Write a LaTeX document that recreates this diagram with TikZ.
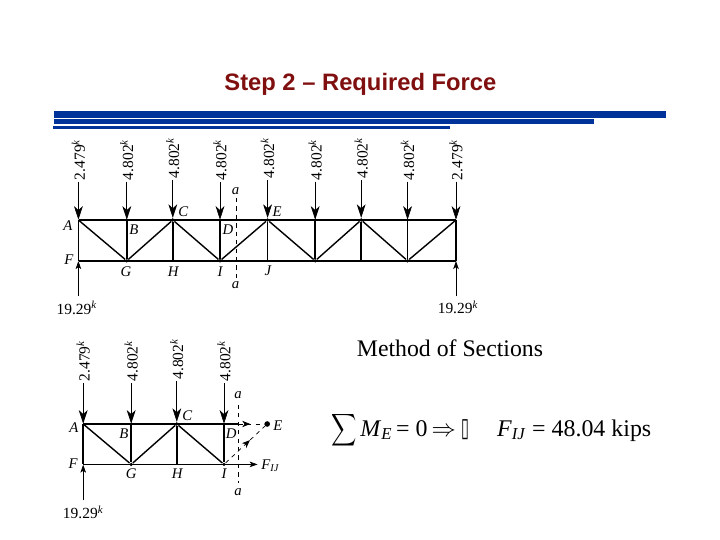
\documentclass[tikz,border=0pt]{standalone}
\usepackage{graphicx}
\usepackage{fontspec}
\setmainfont{Liberation Serif}
\newfontfamily\headfont{Liberation Sans}
\newfontfamily\boxfont{DejaVu Sans}
\usetikzlibrary{arrows.meta}
\usetikzlibrary{positioning}
\usetikzlibrary{decorations.markings}
\definecolor{barblue}{HTML}{003399}
\definecolor{headred}{HTML}{800F0F}
\tikzset{
  joint/.style={circle, fill, inner sep=0pt, minimum size=2.6pt},
  hinge/.style={inner sep=0pt, minimum size=0pt},
  member/.style={draw, line width=1pt},
  load/.style={draw, line width=.45pt, -{Stealth[length=3.4mm, width=2.2mm, inset=1mm]}},
  reaction/.style={draw, line width=.45pt, -{Stealth[length=2mm, width=1.4mm, inset=.5mm]}},
  section/.style={draw, dashed, line width=.45pt},
  probe/.style={draw, dashed, line width=.5pt, postaction={decorate}, decoration={markings,
    mark=at position #1 with {\arrow{Stealth[length=2mm, width=1.6mm, inset=.6mm]}}}},
  loadtext/.style={rotate=90, anchor=west, inner sep=1pt, font=\fontsize{11}{11}\selectfont},
  force/.style={inner sep=1pt, font=\fontsize{11}{11}\selectfont},
  letter/.style={inner sep=0pt, font=\fontsize{10.5}{10.5}\itshape\selectfont},
  bar/.style={fill=barblue}
  }

\begin{document}
\begin{tikzpicture}
	\useasboundingbox (0,0) rectangle (18,-13.5);

	% Header
	\node[font=\headfont\bfseries\fontsize{16.9}{17}\selectfont, text=headred] (title) at (9.01,-2.1) {Step 2 – Required Force};
	\fill[bar] (1.35,-2.775) rectangle (16.65,-2.95);
	\fill[bar] (1.35,-2.97) rectangle (14.85,-3.105);
	\fill[bar] (1.33,-3.145) rectangle (11.25,-3.225);

	% Nodes: full truss
	\node[hinge] (A) at (1.96,-5.5) {};
	\node[hinge] (B) at (3.17,-5.5) {};
	\node[joint] (C) at (4.32,-5.5) {};
	\node[hinge] (D) at (5.5,-5.5) {};
	\node[joint] (E) at (6.69,-5.5) {};
	\node[hinge] (tK) at (7.88,-5.5) {};
	\node[joint] (tL) at (9.03,-5.5) {};
	\node[hinge] (tM) at (10.19,-5.5) {};
	\node[hinge] (tN) at (11.4,-5.5) {};
	\node[hinge] (F) at (1.96,-6.52) {};
	\node[joint] (G) at (3.17,-6.52) {};
	\node[hinge] (H) at (4.32,-6.52) {};
	\node[joint] (I) at (5.5,-6.52) {};
	\node[hinge] (J) at (6.69,-6.52) {};
	\node[joint] (bK) at (7.88,-6.52) {};
	\node[hinge] (bL) at (9.03,-6.52) {};
	\node[joint] (bM) at (10.19,-6.52) {};
	\node[hinge] (bN) at (11.4,-6.52) {};

	% Members
	\draw[member] (A) -- (tN);
	\draw[member] (F) -- (bN);
	\draw[member] (A) -- (F);
	\draw[member] (B) -- (G);
	\draw[member] (C) -- (H);
	\draw[member] (D) -- (I);
	\draw[member] (E) -- (J);
	\draw[member] (tK) -- (bK);
	\draw[member] (tL) -- (bL);
	\draw[member] (tM) -- (bM);
	\draw[member] (tN) -- (bN);
	\draw[member] (A) -- (G);
	\draw[member] (G) -- (C);
	\draw[member] (C) -- (I);
	\draw[member] (I) -- (E);
	\draw[member] (E) -- (bK);
	\draw[member] (bK) -- (tL);
	\draw[member] (tL) -- (bM);
	\draw[member] (bM) -- (tN);

	% Loads
	\node[above=.95cm of A, loadtext] (loadA) {2.479\textsuperscript{\textit{k}}};
	\node[above=.95cm of B, loadtext] (loadB) {4.802\textsuperscript{\textit{k}}};
	\node[above=.95cm of C, loadtext] (loadC) {4.802\textsuperscript{\textit{k}}};
	\node[above=.95cm of D, loadtext] (loadD) {4.802\textsuperscript{\textit{k}}};
	\node[above=.95cm of E, loadtext] (loadE) {4.802\textsuperscript{\textit{k}}};
	\node[above=.95cm of tK, loadtext] (loadK) {4.802\textsuperscript{\textit{k}}};
	\node[above=.95cm of tL, loadtext] (loadL) {4.802\textsuperscript{\textit{k}}};
	\node[above=.95cm of tM, loadtext] (loadM) {4.802\textsuperscript{\textit{k}}};
	\node[above=.95cm of tN, loadtext] (loadN) {2.479\textsuperscript{\textit{k}}};
	\draw[load] (loadA) -- (A);
	\draw[load] (loadB) -- (B);
	\draw[load] (loadC) -- (C);
	\draw[load] (loadD) -- (D);
	\draw[load] (loadE) -- (E);
	\draw[load] (loadK) -- (tK);
	\draw[load] (loadL) -- (tL);
	\draw[load] (loadM) -- (tM);
	\draw[load] (loadN) -- (tN);

	% Reactions
	\node[force] (reactF) at (1.92,-7.7) {19.29\textsuperscript{\textit{k}}};
	\node[force] (reactN) at (11.45,-7.68) {19.29\textsuperscript{\textit{k}}};
	\coordinate (tailF) at (1.96,-7.4);
	\coordinate (tailN) at (11.4,-7.4);
	\draw[reaction] (tailF) -- (F);
	\draw[reaction] (tailN) -- (bN);

	% Section a-a
	\coordinate (cutTop) at (5.9,-4.95);
	\coordinate (cutBot) at (5.9,-6.95);
	\draw[section] (cutTop) -- (cutBot);
	\node[letter] (aTop) at (5.89,-4.77) {a};
	\node[letter] (aBot) at (5.89,-7.13) {a};

	% Letters
	\node[letter] (textA) at (1.7,-5.65) {A};
	\node[letter] (textB) at (3.35,-5.73) {B};
	\node[letter] (textC) at (4.58,-5.28) {C};
	\node[letter] (textD) at (5.7,-5.73) {D};
	\node[letter] (textE) at (6.93,-5.28) {E};
	\node[letter] (textF) at (1.72,-6.5) {F};
	\node[letter] (textG) at (3.15,-6.78) {G};
	\node[letter] (textH) at (4.33,-6.78) {H};
	\node[letter] (textI) at (5.5,-6.78) {I};
	\node[letter] (textJ) at (6.7,-6.78) {J};

	% Nodes: cut truss
	\node[hinge] (sA) at (2.08,-10.6) {};
	\node[hinge] (sB) at (3.28,-10.6) {};
	\node[joint] (sC) at (4.42,-10.6) {};
	\node[hinge] (sD) at (5.6,-10.6) {};
	\node[hinge] (sF) at (2.08,-11.61) {};
	\node[joint] (sG) at (3.28,-11.61) {};
	\node[hinge] (sH) at (4.42,-11.61) {};
	\node[joint] (sI) at (5.6,-11.61) {};
	\node[joint, minimum size=4pt] (sE) at (6.68,-10.6) {};
	\coordinate (sCutTop) at (5.97,-10.12);
	\coordinate (sCutBot) at (5.97,-12.08);
	\coordinate (sCutUp) at (5.97,-10.6);
	\coordinate (sCutLow) at (5.97,-11.61);
	\coordinate (sTip) at (6.44,-11.61);

	% Members
	\draw[member] (sA) -- (sCutUp);
	\draw[member] (sF) -- (sCutLow);
	\draw[member] (sA) -- (sF);
	\draw[member] (sB) -- (sG);
	\draw[member] (sC) -- (sH);
	\draw[member] (sD) -- (sI);
	\draw[member] (sA) -- (sG);
	\draw[member] (sG) -- (sC);
	\draw[member] (sC) -- (sI);

	% Cut forces
	\draw[section] (sCutTop) -- (sCutBot);
	\draw[probe=.45] (sCutUp) -- (sE);
	\draw[probe=.62] (sI) -- (sE);
	\draw[reaction] (sCutLow) -- (sTip);

	% Loads
	\node[above=1.02cm of sA, loadtext] (loadsA) {2.479\textsuperscript{\textit{k}}};
	\node[above=1.02cm of sB, loadtext] (loadsB) {4.802\textsuperscript{\textit{k}}};
	\node[above=1.02cm of sC, loadtext] (loadsC) {4.802\textsuperscript{\textit{k}}};
	\node[above=1.02cm of sD, loadtext] (loadsD) {4.802\textsuperscript{\textit{k}}};
	\draw[load] (loadsA) -- (sA);
	\draw[load] (loadsB) -- (sB);
	\draw[load] (loadsC) -- (sC);
	\draw[load] (loadsD) -- (sD);
	\node[force] (reactsF) at (2.08,-12.81) {19.29\textsuperscript{\textit{k}}};
	\coordinate (tailsF) at (2.08,-12.5);
	\draw[reaction] (tailsF) -- (sF);

	% Letters
	\node[letter] (textsA) at (1.85,-10.7) {A};
	\node[letter] (textsB) at (3.1,-10.83) {B};
	\node[letter] (textsC) at (4.68,-10.38) {C};
	\node[letter] (textsD) at (5.78,-10.83) {D};
	\node[letter] (textsE) at (6.95,-10.63) {E};
	\node[letter] (textsF) at (1.83,-11.58) {F};
	\node[letter] (textsG) at (3.28,-11.83) {G};
	\node[letter] (textsH) at (4.43,-11.83) {H};
	\node[letter] (textsI) at (5.6,-11.83) {I};
	\node[letter] (textsa) at (5.95,-9.88) {a};
	\node[letter] (textsb) at (5.95,-12.3) {a};
	\node[letter, anchor=west] (textFIJ) at (6.53,-11.65) {F\textsubscript{IJ}};

	% Method
	\node[font=\fontsize{16.9}{17}\selectfont] (method) at (11.25,-8.7) {Method of Sections};
	\node[xscale=1.25, yscale=1.6, transform shape, inner sep=0pt] (sigma) at (8.6,-10.75) {$\displaystyle\sum$};
	\node[anchor=base west, inner sep=0pt, font=\fontsize{17}{17}\selectfont] (moment) at (9.0,-10.9)
		{\textit{M}\textsubscript{\textit{E}}\kern2.8pt= 0\,$\Rightarrow$\,\kern1pt{\boxfont\scalebox{.6}[1.1]{▯}}};
	\node[anchor=base west, inner sep=0pt, font=\fontsize{17}{17}\selectfont] (result) at (12.42,-10.9)
		{\textit{F}\textsubscript{\textit{IJ}} = 48.04 kips};
\end{tikzpicture}
\end{document}
